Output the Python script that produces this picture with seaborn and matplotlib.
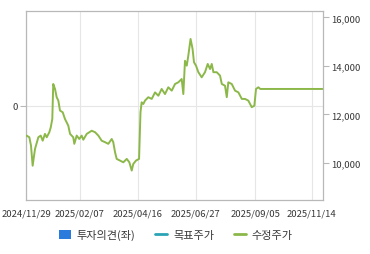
import matplotlib
matplotlib.use("Agg")
import matplotlib.pyplot as plt
import matplotlib.lines as mlines
import matplotlib.patches as mpatches
import seaborn as sns
import pandas as pd

# trading-day index and adjusted price (수정주가)
day_idx = [0, 2.4, 3.8, 5.2, 7.2, 10, 12, 13.7, 15.6, 17.1, 19.3, 20.5, 21.8, 22.6,
           24.1, 25.5, 26.9, 28.3, 30.6, 32.5, 35.3, 36.8, 39.5, 40.4, 42.4, 44.6,
           46.6, 48, 50.9, 55.1, 57.9, 60.7, 63.5, 66.3, 69.1, 72, 73.3, 74.8, 76.2,
           79, 81.8, 84.7, 86.9, 88.9, 90.2, 92.5, 95.1, 96.3, 97.3, 98.7, 100.1,
           102.9, 105.8, 108.6, 111.4, 114.2, 117, 119.8, 122.7, 125.5, 128.3,
           131.1, 132.5, 133.9, 135.4, 136.7, 138.6, 140.3, 141.5, 143.2, 145.2,
           148, 150.8, 153.1, 155.1, 156.5, 157.9, 160.7, 163.5, 165, 167.7, 169.2,
           170.5, 173.4, 176.2, 179, 181.9, 184.6, 187.4, 190.3, 192.5, 193.9,
           195.9, 197.5, 250.5]
price = [11130, 11060, 10720, 9890, 10580, 11060, 11130, 10920, 11200, 11060, 11270,
         11470, 11815, 13255, 13050, 12710, 12570, 12160, 12090, 11815, 11540, 11200,
         11060, 10790, 11130, 10990, 11130, 10960, 11200, 11330, 11270, 11130, 10920,
         10860, 10790, 10990, 10860, 10445, 10170, 10100, 10030, 10170, 10030, 9690,
         9960, 10100, 10170, 12090, 12500, 12430, 12570, 12710, 12640, 12910, 12770,
         13050, 12840, 13120, 12980, 13255, 13325, 13460, 12840, 14210, 14010, 14420,
         15110, 14700, 14150, 14010, 13740, 13530, 13740, 14080, 13870, 14080, 13740,
         13740, 13600, 13255, 13185, 12710, 13325, 13255, 12980, 12910, 12640, 12640,
         12570, 12300, 12360, 13050, 13120, 13050, 13050]

tick_idx = [0, 44.8, 93.8, 143, 193.3, 241]
tick_labels = ["2024/11/29", "2025/02/07", "2025/04/16", "2025/06/27", "2025/09/05", "2025/11/14"]
price_ticks = [10000, 12000, 14000, 16000]
legend_labels = ["투자의견(좌)", "목표주가", "수정주가"]

sns.set_theme(style="white")
plt.rcParams['font.family'] = ['Noto Sans CJK KR', 'DejaVu Sans']

fig = plt.figure(figsize=(3.7, 2.55), dpi=100)
ax = fig.add_axes([0.0716, 0.212, 0.8014, 0.739])
ax2 = ax.twinx()

spine_c = "#b8b8b8"
grid_c = "#e6e6e6"
text_c = "#383838"
green = "#8cb84a"

df = pd.DataFrame({"idx": day_idx, "price": price})
sns.lineplot(data=df, x="idx", y="price", ax=ax2, color=green, linewidth=1.4,
             estimator=None, sort=False)

ax.set_xlim(0, 250.5)
ax.set_ylim(-1, 1)
ax.set_yticks([0])
ax.set_yticklabels(["0"])
ax.set_xticks(tick_idx)
ax.set_xticklabels(tick_labels)
for x in tick_idx:
    ax.axvline(x, color=grid_c, linewidth=0.8, zorder=0)
ax.axhline(0, color=grid_c, linewidth=0.8, zorder=0)

ax2.set_ylim(8480, 16240)
ax2.set_yticks(price_ticks)
ax2.set_yticklabels([f"{v:,}" for v in price_ticks])
ax2.set_xlabel("")
ax2.set_ylabel("")
ax.set_xlabel("")
ax.set_ylabel("")

for name, s in ax.spines.items():
    s.set_color(spine_c)
    s.set_linewidth(0.9)
    s.set_visible(name != "right")
for name, s in ax2.spines.items():
    s.set_color(spine_c)
    s.set_linewidth(0.9)
    s.set_visible(name == "right")
ax.grid(False)
ax2.grid(False)

ax.tick_params(axis="x", direction="out", length=4, width=0.8, color=spine_c,
               labelsize=6.8, labelcolor=text_c, pad=2)
ax.tick_params(axis="y", direction="out", length=4, width=0.8, color=spine_c,
               labelsize=6.8, labelcolor=text_c, pad=2, left=True)
ax2.tick_params(axis="y", direction="out", length=4, width=0.8, color=spine_c,
                labelsize=6.8, labelcolor=text_c, pad=2, right=True)

handles = [
    mpatches.Patch(facecolor="#2b7bdc", edgecolor="none"),
    mlines.Line2D([], [], color="#2aa3b5", linewidth=2),
    mlines.Line2D([], [], color=green, linewidth=2),
]
fig.legend(handles, legend_labels, loc="center", bbox_to_anchor=(0.475, 0.075), ncol=3,
           frameon=False, fontsize=8, handlelength=1.1, handleheight=0.75,
           columnspacing=1.8, handletextpad=0.5, labelcolor=text_c)

fig.savefig("out.png", dpi=100)
